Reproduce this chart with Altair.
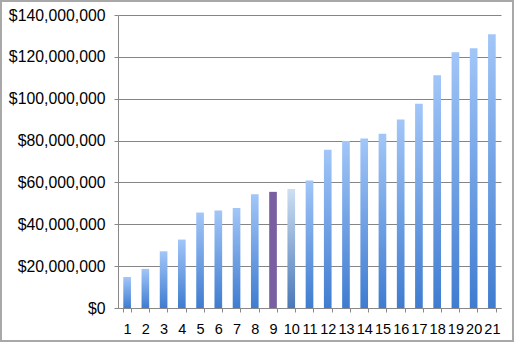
import altair as alt
import pandas as pd

categories = list(range(1, 22))
values_m = [14.8, 18.7, 27.1, 32.7, 45.6, 46.6, 47.8, 54.3, 55.5, 56.9, 60.9,
            75.6, 79.8, 81.0, 83.3, 90.1, 97.6, 111.2, 122.2, 124.1, 130.8]
highlight = {9: "purple", 10: "pale"}
y_ticks = [0, 20e6, 40e6, 60e6, 80e6, 100e6, 120e6, 140e6]

df = pd.DataFrame({
    "cat": [str(c) for c in categories],
    "value": [v * 1e6 for v in values_m],
    "kind": [highlight.get(c, "normal") for c in categories],
})

FONT = "Liberation Sans"
W, H = 383, 293


def grad(top, bottom):
    return alt.LinearGradient(
        gradient="linear",
        stops=[alt.GradientStop(color=top, offset=0),
               alt.GradientStop(color=bottom, offset=1)],
        x1=0, x2=0, y1=0, y2=1,
    )


x_enc = alt.X("cat:N", sort=[str(c) for c in categories], title=None,
              scale=alt.Scale(paddingInner=0.58, paddingOuter=0.29),
              axis=alt.Axis(labelAngle=0, labelFont=FONT, labelFontSize=14.5,
                            labelColor="#000", tickBand="extent", tickSize=4,
                            tickColor="#888", domainColor="#888",
                            labelPadding=10, grid=False))
y_enc = alt.Y("value:Q", title=None,
              scale=alt.Scale(domain=[0, 140e6], nice=False),
              axis=alt.Axis(values=y_ticks, format="$,.0f", labelFont=FONT,
                            labelFontSize=15.8, labelColor="#000", tickSize=4,
                            tickColor="#888", domainColor="#888",
                            gridColor="#858585", gridWidth=1, labelPadding=9))

base = alt.Chart(df)

normal = base.transform_filter("datum.kind == 'normal'").mark_bar(
    color=grad("#a2c6f8", "#3f7cd0")).encode(x=x_enc, y=y_enc)
purple = base.transform_filter("datum.kind == 'purple'").mark_bar(
    color="#7a5ea2").encode(x=x_enc, y=y_enc)
pale = base.transform_filter("datum.kind == 'pale'").mark_bar(
    color=grad("#cddff2", "#4a78b8")).encode(x=x_enc, y=y_enc)

border = alt.Chart(pd.DataFrame({"a": [0]})).mark_rect(
    fill=None, stroke="#a8a8a8", strokeWidth=2
).encode(x=alt.value(-117), x2=alt.value(W + 12), y=alt.value(-14),
         y2=alt.value(H + 33))

chart = alt.layer(normal, purple, pale, border).properties(
    width=W, height=H,
    autosize=alt.AutoSizeParams(type="none"),
    padding={"left": 118, "top": 15, "right": 14, "bottom": 37},
    background="white",
).configure_view(stroke=None)

chart.save("out.html", embed_options={"renderer": "svg", "actions": False})
